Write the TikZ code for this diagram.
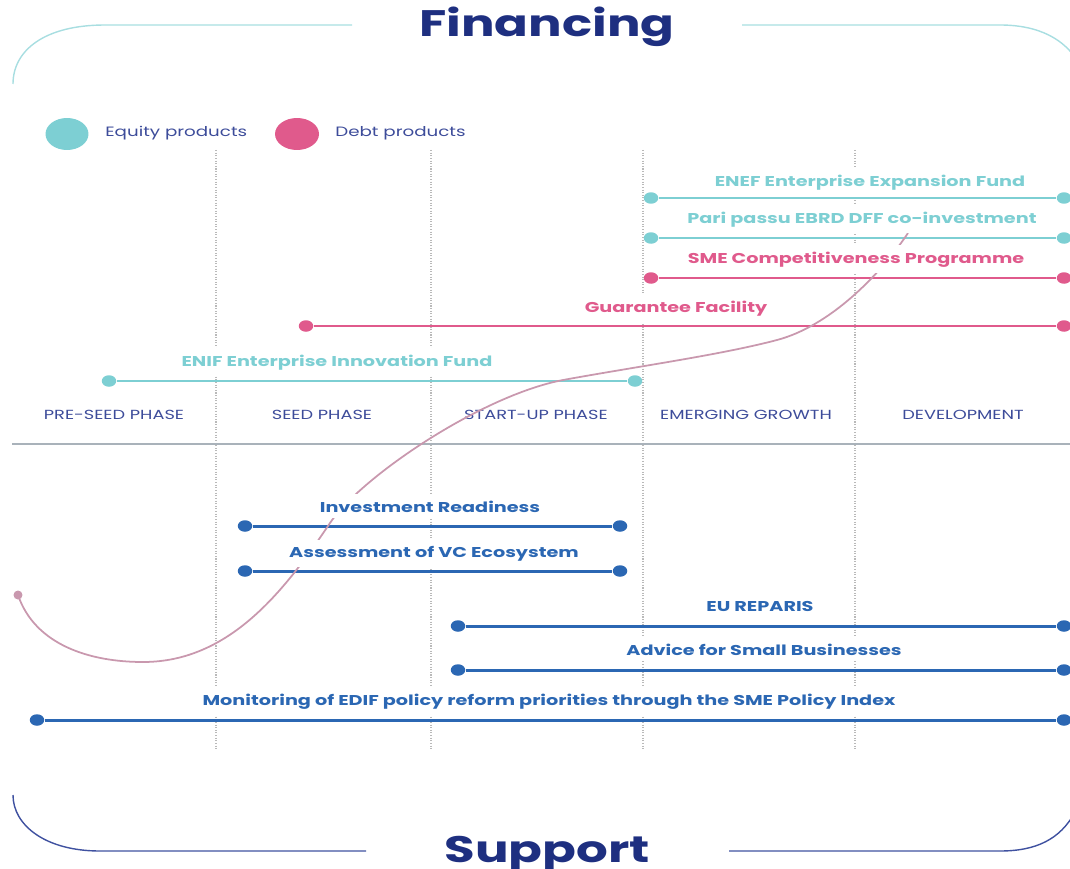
\documentclass[tikz,border=0pt]{standalone}
\usepackage{fontspec}
\setmainfont{Poppins}[FakeStretch=1.35]
\usetikzlibrary{shapes.geometric}

\definecolor{equity}{HTML}{7DCFD3}
\definecolor{debt}{HTML}{E05A8C}
\definecolor{support}{HTML}{2B67B3}
\definecolor{navy}{HTML}{1E2F80}
\definecolor{phasetext}{HTML}{3D4C9A}
\definecolor{axisgray}{HTML}{A9B2BA}
\definecolor{curvepink}{HTML}{C998AE}
\definecolor{topframe}{HTML}{A8DEE1}
\definecolor{botframe}{HTML}{3F51A0}

\begin{document}
\begin{tikzpicture}[x=0.02cm, y=-0.02cm,
    enddot/.style={ellipse, fill=#1, inner sep=0pt, minimum width=0.29cm, minimum height=0.23cm},
    prodbar/.style={draw=#1, line width=1.7pt},
    barlabel/.style={anchor=base, fill=white, inner xsep=2pt, inner ysep=3.5pt, text=#1, font=\bfseries\fontsize{8.1}{10}\selectfont},
    phase/.style={anchor=base, text=phasetext, font=\fontsize{7.5}{9}\selectfont},
    legendtext/.style={anchor=base west, inner sep=0pt, text=phasetext, font=\fontsize{7.7}{9}\selectfont},
    heading/.style={anchor=base, text=navy, font=\bfseries\fontsize{21}{24}\selectfont},
    phasesep/.style={gray!55, line width=0.7pt, dash pattern=on 0.6pt off 0.9pt}]
  \useasboundingbox (0,0) rectangle (1070,868);
  \clip (0,0) rectangle (1070,868);

  % frame
  \draw[topframe, line width=0.8pt] (352,25) -- (105,25) .. controls (45,25) and (13,50) .. (13,84);
  \draw[topframe, line width=0.8pt] (742,25) -- (1000,25) .. controls (1040,25) and (1065,40) .. (1078,62);
  \draw[botframe, line width=0.8pt] (13,795) .. controls (13,825) and (45,851) .. (100,851) -- (366,851);
  \draw[botframe, line width=0.8pt] (729,851) -- (1000,851) .. controls (1035,851) and (1060,840) .. (1075,812);
  \node[heading] (fin) at (547,37) {Financing};
  \node[heading] (sup) at (547,862) {Support};

  % legend
  \node[ellipse, fill=equity, minimum width=0.86cm, minimum height=0.64cm, inner sep=0pt] (eqkey) at (67,134) {};
  \node[legendtext] (eqtxt) at (105,137) {Equity products};
  \node[ellipse, fill=debt, minimum width=0.88cm, minimum height=0.64cm, inner sep=0pt] (dbkey) at (297,134) {};
  \node[legendtext] (dbtxt) at (335,137) {Debt products};

  % phases
  \foreach \x in {216,431,643,855}
    \draw[phasesep] (\x,150) -- (\x,750);
  \draw[axisgray, line width=1.4pt] (12,444) -- (1070,444);
  \node[phase] (ps1) at (114,419) {PRE-SEED PHASE};
  \node[phase] (ps2) at (322,419) {SEED PHASE};
  \node[phase] (ps3) at (536,419) {START-UP PHASE};
  \node[phase] (ps4) at (746,419) {EMERGING GROWTH};
  \node[phase] (ps5) at (963,419) {DEVELOPMENT};

  % financing
  \node[enddot=equity] (enefL) at (651,198) {};
  \node[enddot=equity] (enefR) at (1064,198) {};
  \node[enddot=equity] (pariL) at (651,238) {};
  \node[enddot=equity] (pariR) at (1064,238) {};
  \node[enddot=debt] (smecL) at (651,278) {};
  \node[enddot=debt] (smecR) at (1064,278) {};
  \node[enddot=debt] (guarL) at (306,326) {};
  \node[enddot=debt] (guarR) at (1064,326) {};
  \node[enddot=equity] (enifL) at (109,381) {};
  \node[enddot=equity] (enifR) at (635,381) {};
  \draw[prodbar=equity] (enefL) -- (enefR);
  \draw[prodbar=equity] (pariL) -- (pariR);
  \draw[prodbar=debt] (smecL) -- (smecR);
  \draw[prodbar=debt] (guarL) -- (guarR);
  \draw[prodbar=equity] (enifL) -- (enifR);

  % support
  \node[enddot=support] (invrL) at (245,526) {};
  \node[enddot=support] (invrR) at (620,526) {};
  \node[enddot=support] (assmL) at (245,571) {};
  \node[enddot=support] (assmR) at (620,571) {};
  \node[enddot=support] (reprL) at (458,626) {};
  \node[enddot=support] (reprR) at (1064,626) {};
  \node[enddot=support] (advcL) at (458,670) {};
  \node[enddot=support] (advcR) at (1064,670) {};
  \node[enddot=support] (monL) at (37,720) {};
  \node[enddot=support] (monR) at (1064,720) {};
  \draw[prodbar=support] (invrL) -- (invrR);
  \draw[prodbar=support] (assmL) -- (assmR);
  \draw[prodbar=support] (reprL) -- (reprR);
  \draw[prodbar=support] (advcL) -- (advcR);
  \draw[prodbar=support] (monL) -- (monR);

  % growth curve
  \node[circle, fill=curvepink, inner sep=0pt, minimum size=0.18cm] (cstart) at (18,595) {};
  \draw[curvepink, line width=1pt] (cstart.center)
    .. controls (35,645) and (90,662) .. (143,662)
    .. controls (230,662) and (285,590) .. (330,523)
    .. controls (360,478) and (480,396) .. (563,380)
    .. controls (640,366) and (720,355) .. (777,340)
    .. controls (830,326) and (880,275) .. (908,233);

  % labels
  \node[barlabel=equity] (enefT) at (870,186) {ENEF Enterprise Expansion Fund};
  \node[barlabel=equity] (pariT) at (862,223) {Pari passu EBRD DFF co-investment};
  \node[barlabel=debt] (smecT) at (856,263) {SME Competitiveness Programme};
  \node[barlabel=debt] (guarT) at (676,312) {Guarantee Facility};
  \node[barlabel=equity] (enifT) at (337,366) {ENIF Enterprise Innovation Fund};
  \node[barlabel=support] (invrT) at (430,512) {Investment Readiness};
  \node[barlabel=support] (assmT) at (434,557) {Assessment of VC Ecosystem};
  \node[barlabel=support] (reprT) at (760,611) {EU REPARIS};
  \node[barlabel=support] (advcT) at (764,655) {Advice for Small Businesses};
  \node[barlabel=support] (monT) at (549,705) {Monitoring of EDIF policy reform priorities through the SME Policy Index};
\end{tikzpicture}
\end{document}
